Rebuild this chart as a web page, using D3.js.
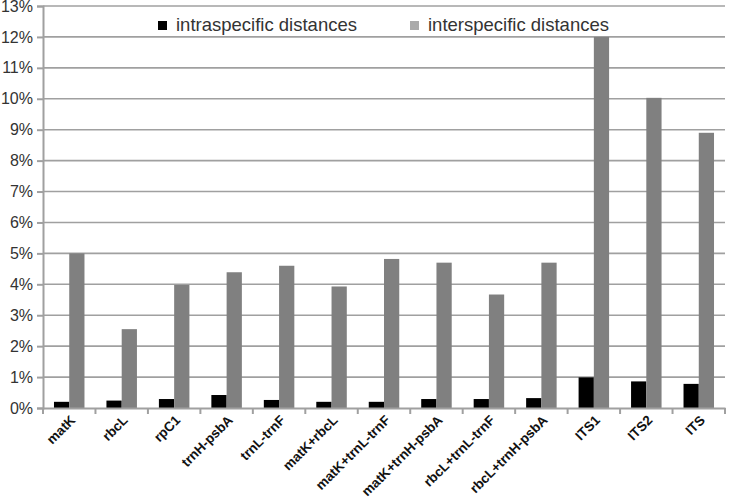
<!DOCTYPE html>
<html>
<head>
<meta charset="utf-8">
<script src="https://cdn.jsdelivr.net/npm/d3@7"></script>
<style>
  body { margin: 0; background: #fff; }
  svg { font-family: "Liberation Sans", Arial, sans-serif; }
  .grid line { stroke: #a0a0a0; stroke-width: 1.6; }
  .axis path, .axis line { stroke: #a0a0a0; stroke-width: 2; }
  .y-axis text { font-size: 16px; fill: #333; }
  .x-axis text { font-size: 13.5px; font-weight: bold; fill: #111; }
  .legend text { font-size: 18.5px; fill: #333; }
</style>
</head>
<body>
<svg id="chart" width="733" height="497"></svg>
<script>
const markers = [
  "matK", "rbcL", "rpC1", "trnH-psbA", "trnL-trnF", "matK+rbcL",
  "matK+trnL-trnF", "matK+trnH-psbA", "rbcL+trnL-trnF", "rbcL+trnH-psbA",
  "ITS1", "ITS2", "ITS",
];
const intraValues = [0.2, 0.24, 0.29, 0.42, 0.26, 0.2, 0.2, 0.29, 0.29, 0.32, 0.99, 0.86, 0.78];
const interValues = [5.0, 2.55, 3.98, 4.39, 4.6, 3.93, 4.82, 4.7, 3.67, 4.7, 12.0, 10.03, 8.9];
const seriesNames = ["intraspecific distances", "interspecific distances"];
const yTicks = d3.range(0, 14);

const svg = d3.select("#chart");
const margin = { top: 6, right: 8, bottom: 89, left: 43 };
const width = 733;
const height = 497;
const innerWidth = width - margin.left - margin.right;
const innerHeight = height - margin.top - margin.bottom;

const g = svg.append("g").attr("transform", `translate(${margin.left},${margin.top})`);

const x = d3.scaleBand().domain(markers).range([0, innerWidth]);
const x1 = d3.scaleBand().domain([0, 1]).range([0, x.bandwidth()]).paddingOuter(0.72);
const y = d3.scaleLinear().domain([0, 13]).range([innerHeight, 0]);

g.append("g")
  .attr("class", "grid")
  .selectAll("line")
  .data(yTicks.slice(1))
  .join("line")
  .attr("x1", 0)
  .attr("x2", innerWidth)
  .attr("y1", (d) => y(d))
  .attr("y2", (d) => y(d));

const groups = g.selectAll(".bar-group")
  .data(markers)
  .join("g")
  .attr("class", "bar-group")
  .attr("transform", (d) => `translate(${x(d)},0)`);

groups.append("rect")
  .attr("x", x1(0))
  .attr("width", x1.bandwidth())
  .attr("y", (d, i) => y(intraValues[i]))
  .attr("height", (d, i) => y(0) - y(intraValues[i]))
  .attr("fill", "#000");

groups.append("rect")
  .attr("x", x1(1))
  .attr("width", x1.bandwidth())
  .attr("y", (d, i) => y(interValues[i]))
  .attr("height", (d, i) => y(0) - y(interValues[i]))
  .attr("fill", "#808080");

g.append("g")
  .attr("class", "axis y-axis")
  .call(d3.axisLeft(y).tickValues(yTicks).tickSize(6).tickPadding(4).tickFormat((d) => `${d}%`));

const xAxis = g.append("g")
  .attr("class", "axis x-axis")
  .attr("transform", `translate(0,${innerHeight})`)
  .call(d3.axisBottom(x).tickSize(0).tickFormat(""));

xAxis.selectAll(".sep")
  .data(d3.range(markers.length + 1))
  .join("line")
  .attr("class", "sep")
  .attr("x1", (i) => i * x.step())
  .attr("x2", (i) => i * x.step())
  .attr("y1", 0)
  .attr("y2", 6);

xAxis.selectAll(".lbl")
  .data(markers)
  .join("text")
  .attr("class", "lbl")
  .attr("text-anchor", "end")
  .attr("transform", (d) => `translate(${x(d) + x.bandwidth() / 2 + 7},${13}) rotate(-45)`)
  .text((d) => d);

const legend = g.append("g").attr("class", "legend");
const legendItems = [
  { name: seriesNames[0], color: "#000", x: 115 },
  { name: seriesNames[1], color: "#aaaaaa", x: 367 },
];
legendItems.forEach((item) => {
  legend.append("rect")
    .attr("x", item.x)
    .attr("y", 15)
    .attr("width", 9)
    .attr("height", 9)
    .attr("fill", item.color);
  legend.append("text")
    .attr("x", item.x + 18)
    .attr("y", 24.5)
    .text(item.name);
});
</script>
</body>
</html>
